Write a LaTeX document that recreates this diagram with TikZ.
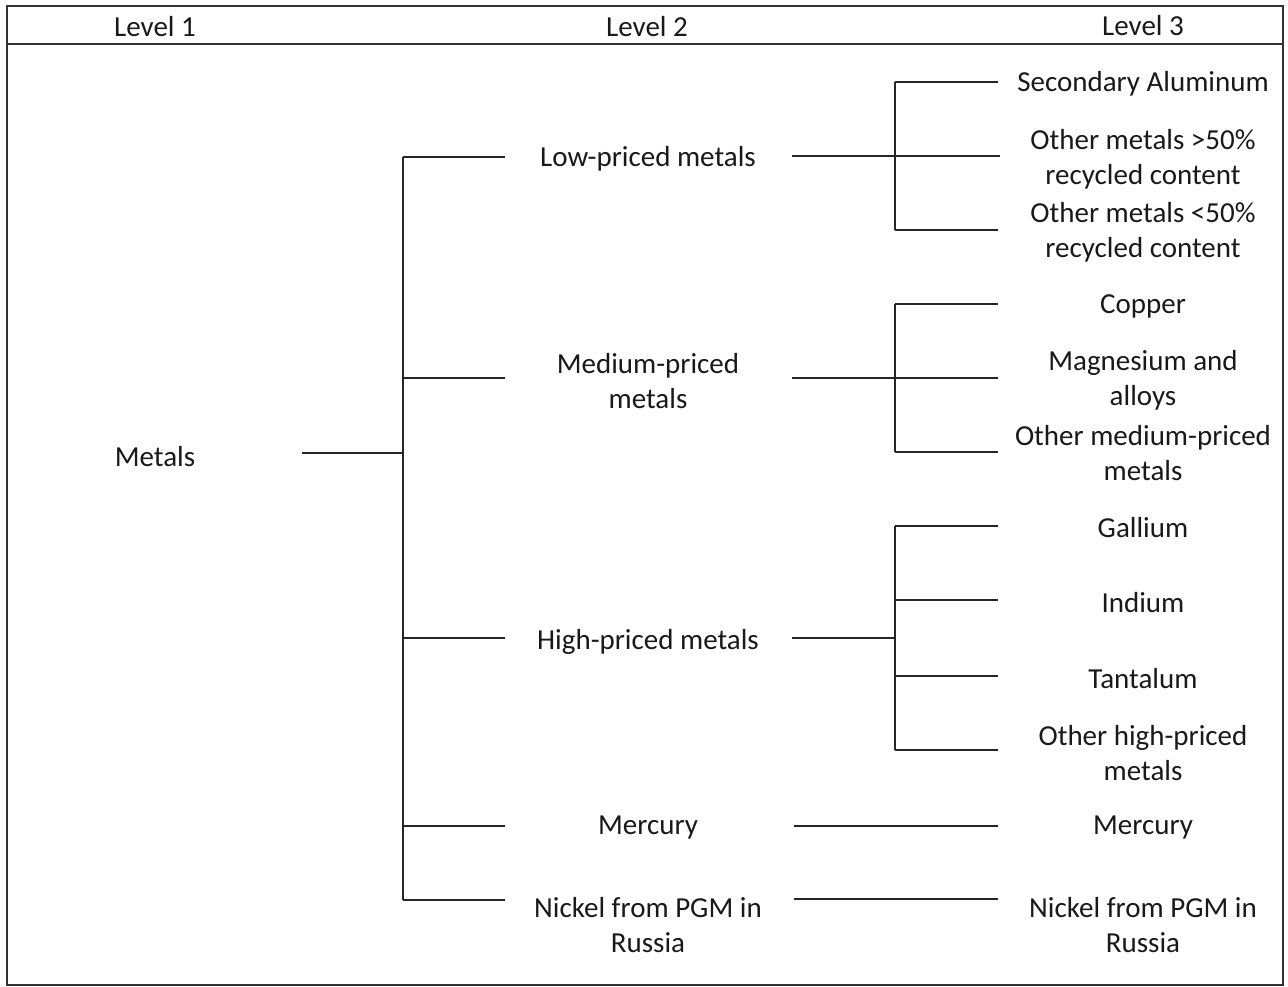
\documentclass[tikz,border=0pt]{standalone}
\usepackage{fontspec}
\setmainfont{Carlito}
\begin{document}
\begin{tikzpicture}[x=1pt,y=-1pt,
  lbl/.style={font=\fontsize{29}{35}\selectfont, align=center, inner sep=0pt, text=black!90},
  ln/.style={line width=2.5pt, black!85},
  thinln/.style={line width=1.4pt, black!85},
  frame/.style={line width=2pt, black!80}]
\useasboundingbox (0,0) rectangle (1288,987);
% frame and header
\coordinate (f-tl) at (7,6);
\coordinate (f-br) at (1283,985);
\coordinate (h-l) at (7,44);
\coordinate (h-r) at (1283,44);
\draw[frame] (f-tl) rectangle (f-br);
\draw[frame] (h-l) -- (h-r);
\node[lbl] (lev1) at (155,27) {Level 1};
\node[lbl] (lev2) at (647,27) {Level 2};
\node[lbl] (lev3) at (1143,26) {Level 3};
% level 1
\node[lbl] (metals) at (155,457) {Metals};
\coordinate (m-r) at (302,453);
\coordinate (m-s) at (403,453);
\draw[ln] (m-r) -- (m-s);
\coordinate (sp-top) at (403,157);
\coordinate (sp-bot) at (403,900);
\draw[ln] (sp-top) -- (sp-bot);
\foreach \n/\y in {low/157, med/378, high/638, merc/826, nick/900}{
  \coordinate (s-\n) at (403,\y);
  \coordinate (b-\n) at (505,\y);
  \draw[ln] (s-\n) -- (b-\n);
}
% level 2 texts
\node[lbl] (low) at (648,159) {Low-priced metals};
\node[lbl] (med) at (648,381) {Medium-priced\\metals};
\node[lbl] (high) at (648,642) {High-priced metals};
\node[lbl] (merc) at (648,828) {Mercury};
\node[lbl] (nick) at (648,925) {Nickel from PGM in\\Russia};
% level 2 -> level 3 connectors
\coordinate (low-a) at (792,156);
\coordinate (low-b) at (1000,156);
\draw[thinln] (low-a) -- (low-b);
\coordinate (med-a) at (792,378);
\coordinate (med-b) at (895,378);
\draw[ln] (med-a) -- (med-b);
\coordinate (high-a) at (792,638);
\coordinate (high-b) at (895,638);
\draw[ln] (high-a) -- (high-b);
\coordinate (merc-a) at (794,826);
\coordinate (merc-b) at (998,826);
\draw[ln] (merc-a) -- (merc-b);
\coordinate (nick-a) at (794,899);
\coordinate (nick-b) at (998,899);
\draw[ln] (nick-a) -- (nick-b);
% level 3 spines
\coordinate (t1) at (895,82);  \coordinate (t2) at (895,230);
\coordinate (t3) at (895,304); \coordinate (t4) at (895,452);
\coordinate (t5) at (895,526); \coordinate (t6) at (895,750);
\draw[ln] (t1) -- (t2);
\draw[ln] (t3) -- (t4);
\draw[ln] (t5) -- (t6);
\foreach \n/\y in {a/82, b/156, c/230, d/304, e/378, f/452, g/526, h/600, i/676, j/750}{
  \coordinate (l3s-\n) at (895,\y);
  \coordinate (l3e-\n) at (998,\y);
  \draw[ln] (l3s-\n) -- (l3e-\n);
}
% level 3 texts
\node[lbl] (sa) at (1143,84) {Secondary Aluminum};
\node[lbl] (om1) at (1143,159) {Other metals >50\%\\recycled content};
\node[lbl] (om2) at (1143,232) {Other metals <50\%\\recycled content};
\node[lbl] (cu) at (1143,306) {Copper};
\node[lbl] (mg) at (1143,380) {Magnesium and\\alloys};
\node[lbl] (omp) at (1143,453) {Other medium-priced\\metals};
\node[lbl] (ga) at (1143,528) {Gallium};
\node[lbl] (in) at (1143,603) {Indium};
\node[lbl] (ta) at (1143,679) {Tantalum};
\node[lbl] (ohp) at (1143,753) {Other high-priced\\metals};
\node[lbl] (merc3) at (1143,828) {Mercury};
\node[lbl] (nick3) at (1143,925) {Nickel from PGM in\\Russia};
\end{tikzpicture}
\end{document}
